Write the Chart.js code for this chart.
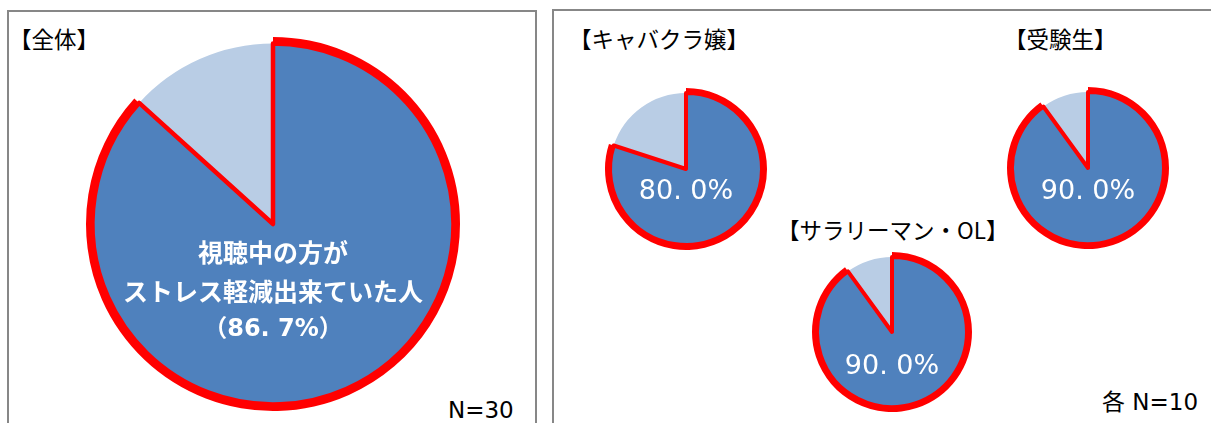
<!DOCTYPE html>
<html lang="ja">
<head>
<meta charset="utf-8">
<script src="https://cdn.jsdelivr.net/npm/chart.js@4"></script>
<style>
  body { margin: 0; width: 1211px; height: 423px; background: #fff; position: relative; overflow: hidden;
         font-family: "Noto Sans CJK JP", sans-serif; }
  .panel { position: absolute; border: 2px solid #878787; box-sizing: border-box; }
  .t { position: absolute; color: #000; font-size: 22.5px; line-height: 1; white-space: nowrap; }
  .n { font-size: 23px; font-family: "DejaVu Sans", "Noto Sans CJK JP", sans-serif; }
  canvas { position: absolute; }
</style>
</head>
<body>
<div class="panel" style="left:7px;top:10px;width:530px;height:440px"></div>
<div class="panel" style="left:552px;top:9px;width:700px;height:440px"></div>

<div class="t" id="t0" style="left:9px;top:27px"></div>
<div class="t" id="t1" style="left:569px;top:27px"></div>
<div class="t" id="t2" style="left:777px;top:218px"></div>
<div class="t" id="t3" style="left:1004px;top:27px"></div>
<div class="t n" id="n0" style="left:448px;top:399px"></div>
<div class="t n" id="n1" style="left:1102px;top:391px"></div>

<canvas id="c0" width="400" height="400" style="left:73px;top:24px;width:400px;height:400px"></canvas>
<canvas id="c1" width="180" height="180" style="left:596px;top:79px;width:180px;height:180px"></canvas>
<canvas id="c2" width="180" height="180" style="left:802px;top:242px;width:180px;height:180px"></canvas>
<canvas id="c3" width="180" height="180" style="left:998px;top:78px;width:180px;height:180px"></canvas>

<script>
// data
var groups = ['全体', 'キャバクラ嬢', 'サラリーマン・OL', '受験生'];
var reduced = [86.7, 80.0, 90.0, 90.0];      // ストレス軽減出来ていた人 (%)
var notReduced = [13.3, 20.0, 10.0, 10.0];   // それ以外 (%)
var sampleNotes = ['N=30', '各 N=10'];
var mainCaption = ['視聴中の方が', 'ストレス軽減出来ていた人'];

var RED = '#FF0000', BLUE = '#4F81BD', LIGHT = '#B9CDE5';
var NUM_FONT = '"DejaVu Sans", "Noto Sans CJK JP"';

function pctText(v) {
  return v.toFixed(1).replace('.', '. ') + '%';
}

for (var i = 0; i < groups.length; i++) {
  document.getElementById('t' + i).textContent = '【' + groups[i] + '】';
}
document.getElementById('n0').textContent = sampleNotes[0];
document.getElementById('n1').textContent = sampleNotes[1];

// white text inside the pie, placed from the arc centre
var pieText = {
  id: 'pieText',
  afterDatasetsDraw: function(chart, args, opts) {
    var arc = chart.getDatasetMeta(1).data[0];
    var ctx = chart.ctx;
    ctx.save();
    ctx.fillStyle = '#fff';
    ctx.textAlign = 'center';
    ctx.textBaseline = 'middle';
    opts.lines.forEach(function(s, k) {
      ctx.font = opts.fonts[k] || opts.fonts[0];
      ctx.fillText(s, arc.x, arc.y + opts.dy + k * opts.gap);
    });
    ctx.restore();
  }
};

// light slice first (drawn underneath), so the red edge of the blue slice shows fully;
// rotation keeps the blue slice starting at 12 o'clock
function makePie(idx, outer, ring, border, lines, dy, gap, fonts) {
  var ctx = document.getElementById('c' + idx).getContext('2d');
  return new Chart(ctx, {
    type: 'pie',
    data: {
      labels: ['その他', '軽減'],
      datasets: [{
        // red rim around the reduced slice
        data: [notReduced[idx], reduced[idx]],
        backgroundColor: ['rgba(0,0,0,0)', RED],
        borderWidth: 0,
        weight: ring
      }, {
        data: [notReduced[idx], reduced[idx]],
        backgroundColor: [LIGHT, BLUE],
        borderColor: ['rgba(0,0,0,0)', RED],
        borderWidth: [0, border],
        borderJoinStyle: 'round',
        weight: outer - ring
      }]
    },
    options: {
      responsive: false,
      animation: false,
      radius: outer,
      rotation: -360 * notReduced[idx] / (notReduced[idx] + reduced[idx]),
      layout: { padding: 0 },
      events: [],
      plugins: {
        legend: { display: false },
        tooltip: { enabled: false },
        pieText: { lines: lines, dy: dy, gap: gap, fonts: fonts }
      }
    },
    plugins: [pieText]
  });
}

makePie(0, 187, 6.5, 4.5, mainCaption.concat(['（' + pctText(reduced[0]) + '）']), 28, 39,
        ['bold 25px "Noto Sans CJK JP"', 'bold 25px "Noto Sans CJK JP"', 'bold 24px ' + NUM_FONT]);
makePie(1, 81, 5, 4, [pctText(reduced[1])], 23, 0, ['27px ' + NUM_FONT]);
makePie(2, 80, 5, 4, [pctText(reduced[2])], 35, 0, ['27px ' + NUM_FONT]);
makePie(3, 81, 5, 4, [pctText(reduced[3])], 24, 0, ['27px ' + NUM_FONT]);
</script>
</body>
</html>
